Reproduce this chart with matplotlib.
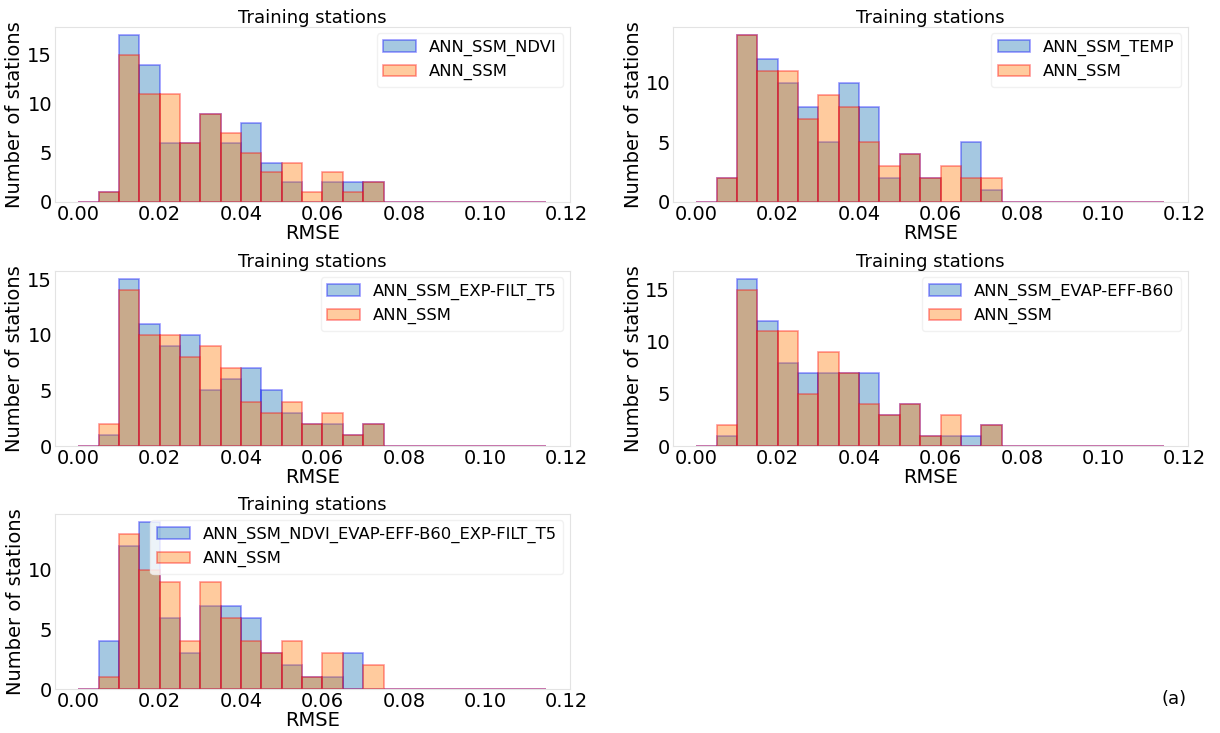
import numpy as np
import matplotlib
matplotlib.use("Agg")
import matplotlib.pyplot as plt

# histogram bin edges (RMSE), 0.005 wide
bin_edges = np.round(np.arange(0, 0.1151, 0.005), 4)

# station counts per bin (only the first 15 bins are non-zero)
ssm_ndvi = [0, 1, 17, 14, 6, 6, 9, 6, 8, 4, 2, 0, 2, 2, 2]
ssm_p1 = [0, 1, 15, 11, 11, 6, 9, 7, 5, 3, 4, 1, 3, 1, 2]

ssm_temp = [0, 2, 14, 12, 10, 8, 5, 10, 8, 2, 4, 2, 0, 5, 1]
ssm_p2 = [0, 2, 14, 11, 11, 7, 9, 8, 5, 3, 4, 2, 3, 2, 2]

ssm_expfilt = [0, 1, 15, 11, 9, 10, 5, 6, 7, 5, 3, 2, 2, 1, 2]
ssm_p3 = [0, 2, 14, 10, 10, 8, 9, 7, 4, 3, 4, 2, 3, 1, 2]

ssm_evap = [0, 1, 16, 12, 8, 7, 7, 7, 7, 3, 4, 1, 1, 1, 2]
ssm_p4 = [0, 2, 15, 11, 11, 5, 9, 7, 4, 3, 4, 1, 3, 0, 2]

ssm_all = [0, 4, 12, 14, 6, 3, 7, 7, 6, 3, 2, 1, 1, 3, 0]
ssm_p5 = [0, 1, 13, 10, 9, 4, 9, 6, 4, 3, 4, 1, 3, 0, 2]

labels = ["ANN_SSM_NDVI", "ANN_SSM_TEMP", "ANN_SSM_EXP-FILT_T5",
          "ANN_SSM_EVAP-EFF-B60", "ANN_SSM_NDVI_EVAP-EFF-B60_EXP-FILT_T5"]
models = [ssm_ndvi, ssm_temp, ssm_expfilt, ssm_evap, ssm_all]
baselines = [ssm_p1, ssm_p2, ssm_p3, ssm_p4, ssm_p5]

fig = plt.figure(figsize=(12.2, 7.33), dpi=100)

# axes boxes in figure fractions [left, bottom, width, height]
w, h = 0.422, 0.239
boxes = [[0.045, 0.7245, w, h], [0.5516, 0.7245, w, h],
         [0.045, 0.3915, w, h], [0.5516, 0.3915, w, h],
         [0.045, 0.060, w, h]]


def pad(counts):
    return list(counts) + [0] * (len(bin_edges) - 1 - len(counts))


centers = (bin_edges[:-1] + bin_edges[1:]) / 2

for box, lab, m, b in zip(boxes, labels, models, baselines):
    ax = fig.add_axes(box)
    ax.hist(centers, bins=bin_edges, weights=pad(m), color="tab:blue",
            edgecolor="blue", alpha=0.4, linewidth=1.2, label=lab)
    ax.hist(centers, bins=bin_edges, weights=pad(b), color="tab:orange",
            edgecolor="red", alpha=0.4, linewidth=1.2, label="ANN_SSM")
    ax.set_title("Training stations", fontsize=13, pad=3)
    ax.set_xlabel("RMSE", fontsize=14, labelpad=0)
    ax.set_ylabel("Number of stations", fontsize=14, labelpad=2)
    ax.set_xticks([0.0, 0.02, 0.04, 0.06, 0.08, 0.10, 0.12])
    ax.xaxis.set_major_formatter(matplotlib.ticker.FormatStrFormatter("%.2f"))
    ax.tick_params(labelsize=14, length=0, pad=2)
    for s in ax.spines.values():
        s.set_color("#e3e3e3")
    ax.legend(loc="upper right", fontsize=11.75, edgecolor="#eeeeee",
              borderaxespad=0.4)

fig.text(0.962, 0.04, "(a)", fontsize=13, ha="center")

fig.savefig("out.png", dpi=100)
